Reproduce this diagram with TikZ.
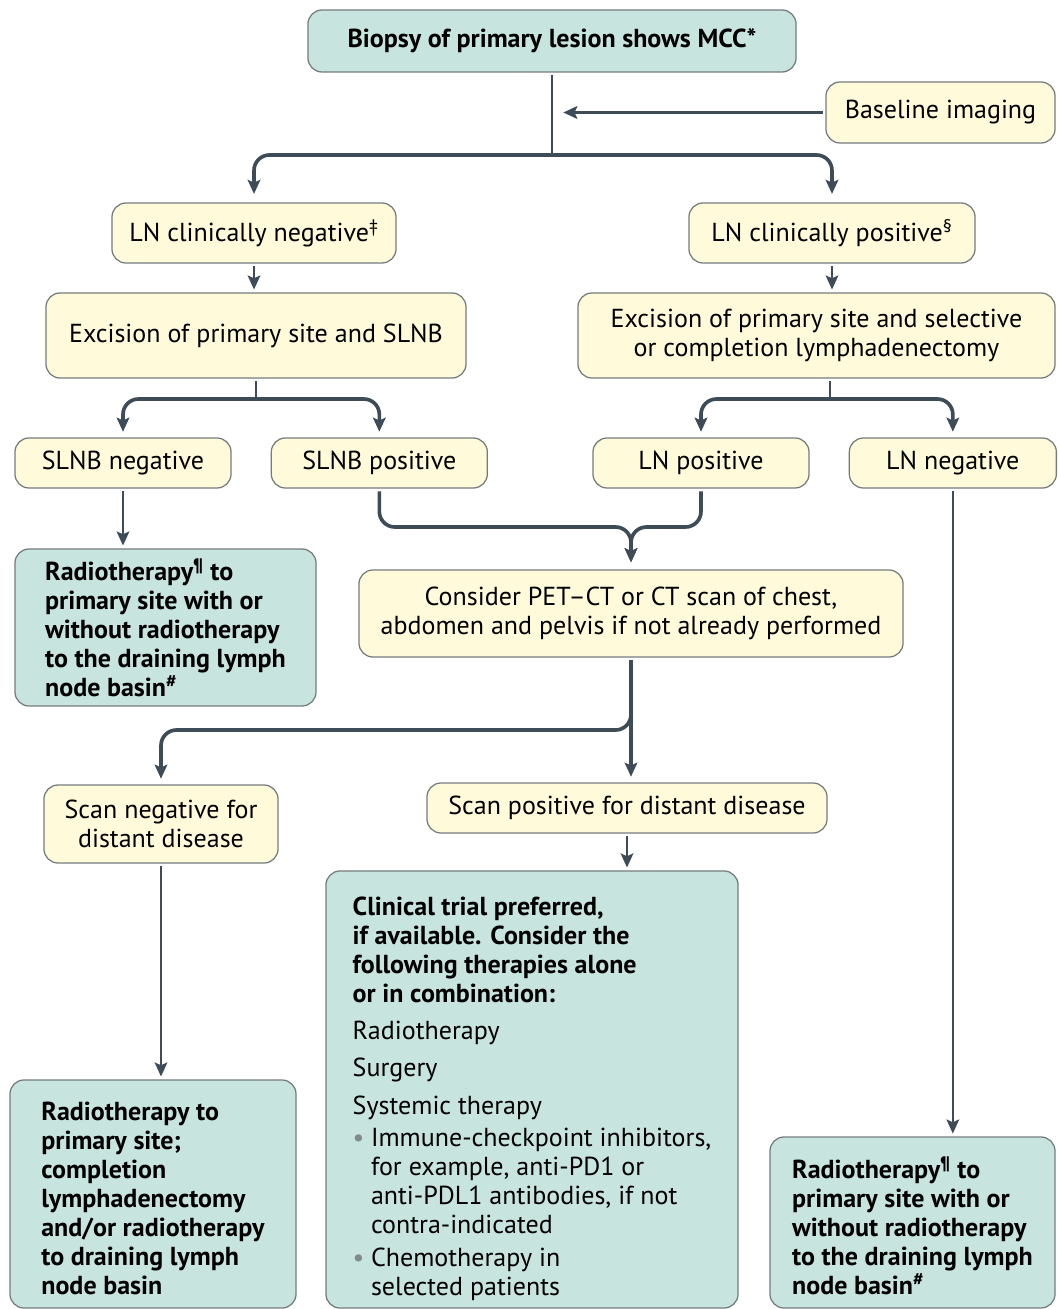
\documentclass[tikz,border=0pt]{standalone}
\usepackage{fontspec}
\setmainfont{PT Sans}
\usepackage{tikz}
\usetikzlibrary{arrows.meta}
\usetikzlibrary{positioning}
\definecolor{Teal-1}{RGB}{200,228,222}
\definecolor{Cream-1}{RGB}{255,251,218}
\definecolor{Edge-1}{RGB}{118,124,126}
\definecolor{Slate-1}{RGB}{62,76,87}
\definecolor{Dot-1}{RGB}{130,138,140}

\begin{document}
\begin{tikzpicture}[x=0.025cm, y=-0.025cm]
    \tikzset{ box/.style ={draw=Edge-1, line width=0.9pt, rounded corners=10pt, inner sep=0pt, font=\fontsize{18.5}{20.6}\selectfont} }
    \tikzset{ yel/.style ={box, fill=Cream-1, align=center} }
    \tikzset{ grn/.style ={box, fill=Teal-1, align=left} }
    \tikzset{ lnk/.style ={draw=Slate-1, line width=1.6pt, rounded corners=11pt, >={Stealth[length=10pt,width=9pt,inset=2pt]}, shorten >=2pt, shorten <=2pt} }
    \tikzset{ brn/.style ={lnk, line width=2.6pt} }

    \useasboundingbox (0,0) rectangle (1058,1309);

    \node[grn, align=center, minimum width=12.2cm,  minimum height=1.55cm ] (bio)     at (552, 41)    {\textbf{Biopsy of primary lesion shows MCC*}};
    \node[yel,               minimum width=5.725cm, minimum height=1.525cm] (base)    at (940.5,112.5){Baseline imaging};
    \node[yel,               minimum width=7.1cm,   minimum height=1.5cm  ] (lnneg)   at (254, 233)   {LN clinically negative\textsuperscript{\ddag}};
    \node[yel,               minimum width=7.15cm,  minimum height=1.5cm  ] (lnpos)   at (832, 233)   {LN clinically positive\textsuperscript{\S}};
    \node[yel,               minimum width=10.5cm,  minimum height=2.125cm] (exc1)    at (256, 335.5) {Excision of primary site and SLNB};
    \node[yel,               minimum width=11.925cm,minimum height=2.125cm] (exc2)    at (816.5,335.5){Excision of primary site and selective\\or completion lymphadenectomy};
    \node[yel,               minimum width=5.4cm,   minimum height=1.25cm ] (slnbneg) at (123, 463)   {SLNB negative};
    \node[yel, right=0.975cm of slnbneg, minimum width=5.4cm, minimum height=1.25cm] (slnbpos) {SLNB positive};
    \node[yel,               minimum width=5.4cm,   minimum height=1.25cm ] (lnp)     at (701, 463)   {LN positive};
    \node[yel, right=0.975cm of lnp, minimum width=5.175cm, minimum height=1.25cm] (lnn)  {LN negative};
    \node[grn,               minimum width=7.525cm, minimum height=3.925cm] (rt1)     at (165.5,627.5){\textbf{Radiotherapy\textsuperscript{\P} to}\\\textbf{primary site with or}\\\textbf{without radiotherapy}\\\textbf{to the draining lymph}\\\textbf{node basin\textsuperscript{\#}}};
    \node[yel,               minimum width=13.6cm,  minimum height=2.175cm] (pet)     at (631, 613.5) {Consider PET--CT or CT scan of chest,\\abdomen and pelvis if not already performed};
    \node[yel,               minimum width=5.85cm,  minimum height=1.95cm ] (scanneg) at (161, 824)   {Scan negative for\\distant disease};
    \node[yel,               minimum width=10cm,    minimum height=1.25cm ] (scanpos) at (627, 808)   {Scan positive for distant disease};
    \node[grn,               minimum width=10.3cm,  minimum height=10.925cm] (trial)  at (532, 1089.5){\rule{0pt}{26pt}\textbf{Clinical trial preferred,}\\\textbf{if available. Consider the}\\\textbf{following therapies alone}\\\textbf{or in combination:}\\[6pt]Radiotherapy\\[6pt]Surgery\\[6pt]Systemic therapy\\[2pt]\makebox[13pt][l]{\textcolor{Dot-1}{\textbullet}}Immune-checkpoint inhibitors,\\\hspace*{13pt}for example, anti-PD1 or\\\hspace*{13pt}anti-PDL1 antibodies, if not\\\hspace*{13pt}contra-indicated\\[3pt]\makebox[13pt][l]{\textcolor{Dot-1}{\textbullet}}Chemotherapy in\\\hspace*{13pt}selected patients};
    \node[grn,               minimum width=7.15cm,  minimum height=5.7cm  ] (rt2)     at (153, 1194)  {\rule{0pt}{20pt}\textbf{Radiotherapy to}\\\textbf{primary site;}\\\textbf{completion}\\\textbf{lymphadenectomy}\\\textbf{and/or radiotherapy}\\\textbf{to draining lymph}\\\textbf{node basin}};
    \node[grn,               minimum width=7.125cm, minimum height=4.275cm] (rt3)     at (912.5,1222.5){\rule{0pt}{20pt}\textbf{Radiotherapy\textsuperscript{\P} to}\\\textbf{primary site with or}\\\textbf{without radiotherapy}\\\textbf{to the draining lymph}\\\textbf{node basin\textsuperscript{\#}}};

    \coordinate (j1) at (552, 155);
    \coordinate (j2) at (256, 399);
    \coordinate (j3) at (830, 399);
    \coordinate (j4) at (631, 527);
    \coordinate (j5) at (161, 730);

    \draw[lnk, shorten >=0pt] (bio)     -- (j1);
    \draw[brn, ->, shorten >=8pt] (base) -- (base -| j1);
    \draw[brn, ->, shorten <=0pt, shorten >=6pt] (j1) -| (lnneg);
    \draw[brn, ->, shorten <=0pt, shorten >=6pt] (j1) -| (lnpos);
    \draw[lnk, ->           ] (lnneg)   -- (lnneg |- exc1.north);
    \draw[lnk, ->           ] (lnpos)   -- (lnpos |- exc2.north);
    \draw[lnk, shorten >=0pt] (exc1)    -- (j2);
    \draw[lnk, shorten >=0pt] (exc2.south -| j3) -- (j3);
    \draw[brn, ->, shorten <=0pt, shorten >=4pt] (j2) -| (slnbneg);
    \draw[brn, ->, shorten <=0pt, shorten >=4pt] (j2) -| (slnbpos);
    \draw[brn, ->, shorten <=0pt, shorten >=4pt] (j3) -| (lnp);
    \draw[brn, ->, shorten <=0pt, shorten >=4pt] (j3) -| (lnn);
    \draw[lnk, ->           ] (slnbneg) -- (slnbneg |- rt1.north);
    \draw[brn, ->, shorten >=5pt] (slnbpos) |- (j4) -- (pet);
    \draw[brn, ->, shorten >=5pt] (lnp)     |- (j4) -- (pet);
    \draw[lnk, ->           ] (lnn)     -- (lnn |- rt3.north);
    \draw[brn, ->, shorten >=4pt] (pet) |- (j5) -- (scanneg);
    \draw[brn, ->, shorten >=4pt] (pet)     -- (pet |- scanpos.north);
    \draw[lnk, ->           ] (scanneg) -- (scanneg |- rt2.north);
    \draw[lnk, ->           ] (scanpos) -- (scanpos |- trial.north);
  \end{tikzpicture}
\end{document}
